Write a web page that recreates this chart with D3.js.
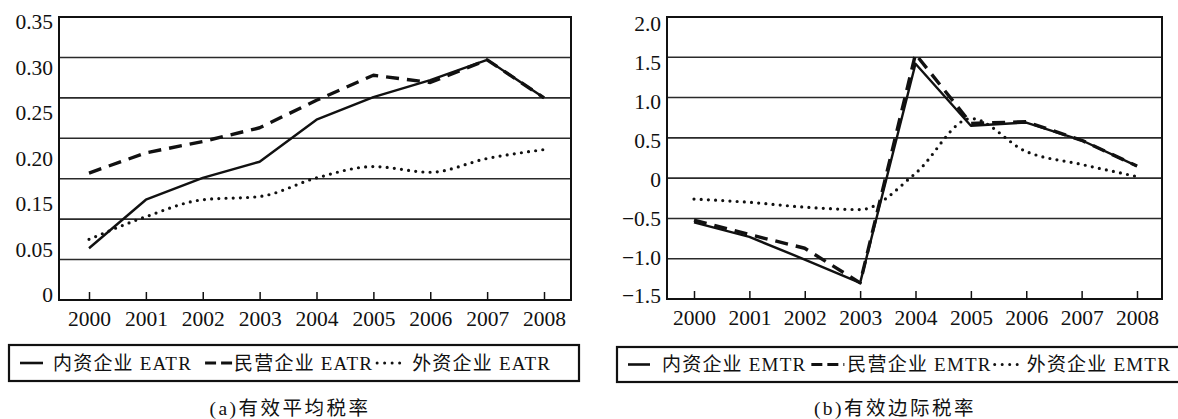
<!DOCTYPE html>
<html>
<head>
<meta charset="utf-8">
<script src="https://cdn.jsdelivr.net/npm/d3@7"></script>
<style>
  body { margin: 0; background: #fff; }
  svg { display: block; }
  text { font-family: "Liberation Serif", "Times New Roman", "Noto Sans CJK SC", serif; fill: #111; }
</style>
</head>
<body>
<svg id="chart" width="1178" height="419"></svg>
<script>
// ---- data ----
const years = [2000, 2001, 2002, 2003, 2004, 2005, 2006, 2007, 2008];

const eatrDomestic = [0.064, 0.124, 0.151, 0.171, 0.223, 0.251, 0.272, 0.297, 0.250];
const eatrPrivate  = [0.157, 0.182, 0.196, 0.213, 0.247, 0.278, 0.269, 0.297, 0.250];
const eatrForeign  = [0.075, 0.103, 0.124, 0.128, 0.151, 0.165, 0.158, 0.175, 0.186];

const emtrDomestic = [-0.55, -0.73, -1.01, -1.30, 1.42, 0.65, 0.69, 0.47, 0.15];
const emtrPrivate  = [-0.52, -0.70, -0.87, -1.30, 1.54, 0.68, 0.70, 0.47, 0.15];
const emtrForeign  = [-0.26, -0.30, -0.36, -0.39, 0.06, 0.74, 0.33, 0.17, 0.02];

const eatrGrid = [0, 0.05, 0.10, 0.15, 0.20, 0.25, 0.30, 0.35];
const eatrTickLabels = ["0.35", "0.30", "0.25", "0.20", "0.15", "0.05", "0"]; // as printed
const emtrGrid = [-1.5, -1.0, -0.5, 0, 0.5, 1.0, 1.5, 2.0];

const eatrNames = ["内资企业 EATR", "民营企业 EATR", "外资企业 EATR"];
const emtrNames = ["内资企业 EMTR", "民营企业 EMTR", "外资企业 EMTR"];
const captions = ["(a)有效平均税率", "(b)有效边际税率"];

// ---- styles ----
const styles = [
  { width: 2.4, dash: null, curve: d3.curveLinear },
  { width: 3.4, dash: "13,8", curve: d3.curveLinear },
  { width: 3.2, dash: "0,7.2", curve: d3.curveMonotoneX }
];

const svg = d3.select("#chart");
svg.append("rect").attr("width", 1178).attr("height", 419).attr("fill", "#fff");

function fmtTick(v) {
  let s = v === 0 ? "0" : d3.format(".1f")(Math.abs(v));
  return v < 0 ? "\u2212" + s : s;
}

function panel(opt) {
  const g = svg.append("g");
  const x = d3.scaleLinear().domain([years[0], years[years.length - 1]])
    .range([opt.left + opt.padL, opt.right - opt.padR]);
  const y = d3.scaleLinear().domain(d3.extent(opt.grid)).range([opt.bottom, opt.top]);

  // grid lines
  g.selectAll(".grid").data(opt.grid).enter().append("line")
    .attr("x1", opt.left).attr("x2", opt.right)
    .attr("y1", d => y(d)).attr("y2", d => y(d))
    .attr("stroke", "#2a2a2a").attr("stroke-width", 1.6);

  // frame
  g.append("rect")
    .attr("x", opt.left).attr("y", opt.top)
    .attr("width", opt.right - opt.left).attr("height", opt.bottom - opt.top)
    .attr("fill", "none").attr("stroke", "#111").attr("stroke-width", 2);

  // x axis
  const xa = g.append("g").attr("transform", `translate(0,${opt.bottom})`)
    .call(d3.axisBottom(x).tickValues(years).tickFormat(d3.format("d"))
      .tickSizeInner(-8).tickSizeOuter(0).tickPadding(11));
  xa.select(".domain").remove();
  xa.selectAll("line").attr("stroke", "#111").attr("stroke-width", 1.5);
  xa.selectAll("text").attr("font-size", 21.5).attr("font-family", null).attr("fill", "#111");

  // y labels
  const ya = g.append("g").attr("transform", `translate(${opt.left},0)`)
    .call(d3.axisLeft(opt.labelScale).tickValues(opt.labelValues)
      .tickFormat(opt.labelFormat).tickSize(0).tickPadding(6));
  ya.select(".domain").remove();
  ya.selectAll("text").attr("font-size", 21.5).attr("font-family", null).attr("fill", "#111");

  // lines
  opt.series.forEach((vals, i) => {
    const st = styles[i];
    const line = d3.line().x((d, j) => x(years[j])).y(d => y(d)).curve(st.curve);
    g.append("path").datum(vals)
      .attr("d", line)
      .attr("fill", "none").attr("stroke", "#111")
      .attr("stroke-width", st.width)
      .attr("stroke-linecap", i === 2 ? "round" : "butt")
      .attr("stroke-linejoin", "round")
      .attr("stroke-dasharray", st.dash);
  });

  // legend
  const lg = svg.append("g");
  lg.append("rect")
    .attr("x", opt.legend.x).attr("y", opt.legend.y)
    .attr("width", opt.legend.w).attr("height", opt.legend.h)
    .attr("fill", "none").attr("stroke", "#111").attr("stroke-width", 2.2);
  const cy = opt.legend.y + opt.legend.h / 2;
  let cx = opt.legend.start;
  opt.names.forEach((name, i) => {
    const len = opt.legend.sample[i];
    lg.append("line")
      .attr("x1", cx).attr("x2", cx + len).attr("y1", cy).attr("y2", cy)
      .attr("stroke", "#111").attr("stroke-width", i === 0 ? 2.6 : 3)
      .attr("stroke-linecap", i === 2 ? "round" : "butt")
      .attr("stroke-dasharray", i === 1 ? "11,5" : (i === 2 ? "0,7.5" : null));
    cx += len + opt.legend.gapIn[i];
    const t = lg.append("text").attr("x", cx).attr("y", cy).attr("dy", "0.36em")
      .attr("font-size", 19).attr("letter-spacing", 1.2).text(name);
    cx += t.node().getComputedTextLength() + opt.legend.gapOut[i];
  });

  // caption
  svg.append("text")
    .attr("x", opt.captionX).attr("y", 408).attr("dy", "0.36em")
    .attr("text-anchor", "middle").attr("font-size", 19.5).attr("letter-spacing", 2.5)
    .text(opt.caption);
}

// left: printed labels are evenly spaced but do not sit on the grid
panel({
  left: 59, right: 571, top: 17, bottom: 300, padL: 30, padR: 27,
  grid: eatrGrid, series: [eatrDomestic, eatrPrivate, eatrForeign],
  labelScale: d3.scalePoint().domain(eatrTickLabels).range([22, 295]),
  labelValues: eatrTickLabels, labelFormat: d => d,
  names: eatrNames, caption: captions[0], captionX: 290,
  legend: { x: 9, y: 345, w: 570, h: 36, start: 20,
            sample: [23, 27, 23], gapIn: [10, 2, 12], gapOut: [13, 4, 0] }
});

panel({
  left: 667, right: 1162, top: 17, bottom: 299, padL: 27, padR: 25,
  grid: emtrGrid, series: [emtrDomestic, emtrPrivate, emtrForeign],
  labelScale: d3.scaleLinear().domain([-1.5, 2.0]).range([296, 24]),
  labelValues: emtrGrid, labelFormat: fmtTick,
  names: emtrNames, caption: captions[1], captionX: 895,
  legend: { x: 617, y: 347, w: 600, h: 35, start: 628,
            sample: [22, 33, 24], gapIn: [12, 3, 8], gapOut: [5, 3, 0] }
});
</script>
</body>
</html>
